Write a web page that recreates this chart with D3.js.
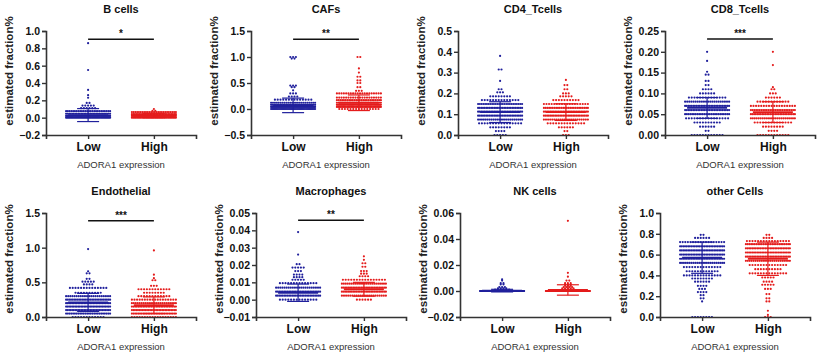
<!DOCTYPE html>
<html>
<head>
<meta charset="utf-8">
<script src="https://cdn.jsdelivr.net/npm/d3@7"></script>
<style>
  body { margin: 0; background: #fff; }
  svg { display: block; font-family: Arial, "Liberation Sans", sans-serif; }
</style>
</head>
<body>
<div id="chart"></div>
<script>
// 分组
const groups = ["Low", "High"]
const cellTypes = ["B cells", "CAFs", "CD4_Tcells", "CD8_Tcells", "Endothelial", "Macrophages", "NK cells", "other Cells"]

// 每行数据: [数值, 点数]
const bCellsLow = [[0.0, 40], [0.02, 40], [0.045, 30], [0.075, 26], [0.11, 6], [0.14, 5], [0.17, 2], [0.23, 1], [0.26, 1], [0.32, 1], [0.55, 1], [0.86, 1]]
const bCellsHigh = [[0.0, 35], [0.02, 40], [0.04, 30], [0.065, 26], [0.08, 2], [0.1, 1]]
const cafsLow = [[0.0, 40], [0.04, 45], [0.08, 30], [0.12, 24], [0.18, 14], [0.24, 4], [0.3, 3], [0.36, 1], [0.42, 2], [0.45, 3], [0.97, 2], [1.0, 3]]
const cafsHigh = [[0.0, 15], [0.04, 35], [0.08, 40], [0.12, 30], [0.17, 26], [0.22, 20], [0.3, 20], [0.35, 3], [0.42, 2], [0.5, 2], [0.55, 2], [0.62, 2], [0.7, 1], [0.78, 1], [1.0, 2]]
const cd4Low = [[0.0, 5], [0.019, 4], [0.037, 8], [0.056, 16], [0.074, 24], [0.093, 28], [0.112, 28], [0.13, 28], [0.149, 26], [0.168, 14], [0.186, 8], [0.205, 3], [0.22, 2], [0.26, 1], [0.315, 2], [0.38, 1]]
const cd4High = [[0.0, 3], [0.019, 2], [0.037, 6], [0.056, 14], [0.074, 22], [0.093, 28], [0.112, 28], [0.13, 26], [0.149, 18], [0.168, 10], [0.186, 5], [0.2, 3], [0.22, 2], [0.24, 2], [0.265, 1]]
const cd8Low = [[0.0, 12], [0.01, 2], [0.02, 6], [0.03, 10], [0.04, 16], [0.05, 26], [0.06, 28], [0.07, 28], [0.08, 22], [0.09, 14], [0.1, 6], [0.11, 4], [0.12, 2], [0.13, 2], [0.145, 2], [0.152, 1], [0.178, 1], [0.2, 1]]
const cd8High = [[0.0, 12], [0.01, 4], [0.02, 8], [0.03, 14], [0.04, 24], [0.05, 28], [0.06, 26], [0.07, 18], [0.08, 12], [0.09, 6], [0.1, 3], [0.11, 2], [0.115, 1], [0.168, 1], [0.2, 1]]
const endoLow = [[0.0, 12], [0.05, 26], [0.1, 30], [0.15, 30], [0.2, 30], [0.25, 28], [0.3, 22], [0.35, 10], [0.42, 14], [0.47, 4], [0.51, 5], [0.55, 2], [0.63, 2], [0.66, 1], [0.98, 1]]
const endoHigh = [[0.0, 18], [0.05, 28], [0.1, 30], [0.15, 28], [0.2, 24], [0.25, 18], [0.3, 12], [0.35, 8], [0.4, 12], [0.45, 3], [0.53, 2], [0.56, 1], [0.61, 1], [0.96, 1]]
const macroLow = [[0.0, 14], [0.0023, 28], [0.0046, 28], [0.0069, 22], [0.0095, 14], [0.0115, 5], [0.013, 4], [0.0145, 4], [0.0165, 3], [0.0185, 5], [0.0205, 2], [0.026, 1], [0.039, 1]]
const macroHigh = [[0.0, 6], [0.0023, 22], [0.0046, 28], [0.0069, 28], [0.0092, 24], [0.0115, 16], [0.0135, 4], [0.015, 3], [0.0165, 3], [0.019, 2], [0.021, 2], [0.023, 1], [0.025, 1]]
const nkLow = [[0.0, 150], [0.001, 6], [0.002, 4], [0.003, 3], [0.005, 2], [0.006, 2], [0.008, 1], [0.009, 1]]
const nkHigh = [[0.0, 140], [0.001, 5], [0.002, 5], [0.003, 4], [0.004, 3], [0.005, 3], [0.006, 3], [0.008, 2], [0.011, 1], [0.014, 1], [0.054, 1]]
const otherLow = [[0.0, 8], [0.15, 1], [0.18, 2], [0.21, 2], [0.24, 4], [0.27, 3], [0.3, 4], [0.34, 6], [0.37, 8], [0.4, 14], [0.44, 12], [0.48, 14], [0.52, 24], [0.56, 28], [0.6, 28], [0.64, 28], [0.68, 28], [0.72, 18], [0.76, 6], [0.79, 2]]
const otherHigh = [[0.0, 3], [0.02, 1], [0.06, 1], [0.15, 2], [0.18, 2], [0.22, 2], [0.27, 3], [0.31, 5], [0.34, 4], [0.38, 5], [0.42, 14], [0.46, 10], [0.5, 14], [0.54, 24], [0.58, 28], [0.62, 28], [0.66, 28], [0.7, 26], [0.73, 16], [0.76, 4], [0.79, 2]]

// 均值 / 标准差 [Low, High]
const means = [[0.03, 0.025], [0.07, 0.12], [0.11, 0.11], [0.065, 0.055], [0.21, 0.17], [0.004, 0.006], [0.0003, 0.0008], [0.57, 0.56]]
const sds = [[0.075, 0.025], [0.14, 0.15], [0.05, 0.04], [0.025, 0.025], [0.13, 0.12], [0.005, 0.004], [0.001, 0.004], [0.15, 0.16]]

// 坐标轴
const yDomains = [[-0.2, 1.0], [-0.5, 1.5], [0, 0.5], [0, 0.25], [0, 1.5], [-0.01, 0.05], [-0.02, 0.06], [0, 1.0]]
const yTicks = [
  [-0.2, 0.0, 0.2, 0.4, 0.6, 0.8, 1.0],
  [-0.5, 0.0, 0.5, 1.0, 1.5],
  [0.0, 0.1, 0.2, 0.3, 0.4, 0.5],
  [0.0, 0.05, 0.1, 0.15, 0.2, 0.25],
  [0.0, 0.5, 1.0, 1.5],
  [-0.01, 0.0, 0.01, 0.02, 0.03, 0.04, 0.05],
  [-0.02, 0.0, 0.02, 0.04, 0.06],
  [0.0, 0.2, 0.4, 0.6, 0.8, 1.0]
]
const tickFormats = [".1f", ".1f", ".1f", ".2f", ".1f", ".2f", ".2f", ".1f"]

// 显著性标记
const sigStars = ["*", "**", "", "***", "***", "**", "", ""]
const sigLevels = [0.905, 1.34, null, 0.231, 1.39, 0.0458, null, null]

const seriesData = [
  [bCellsLow, bCellsHigh], [cafsLow, cafsHigh], [cd4Low, cd4High], [cd8Low, cd8High],
  [endoLow, endoHigh], [macroLow, macroHigh], [nkLow, nkHigh], [otherLow, otherHigh]
]

const colors = {Low: "#20209c", High: "#e41c1c"}

// 布局
const width = 825, height = 357
const plotW = 150, plotH = 104
const panelLeft = [46, 251, 458, 665, 46, 256, 460, 660]
const rowTop = [31, 213]
const yLabelShift = [-12, -6]

const svg = d3.select("#chart").append("svg")
  .attr("width", width).attr("height", height)

const x = d3.scalePoint().domain(groups).range([0, plotW]).padding(0.64)

seriesData.forEach((pair, i) => {
  const row = Math.floor(i / 4)
  const g = svg.append("g")
    .attr("transform", `translate(${panelLeft[i]},${rowTop[row]})`)

  const y = d3.scaleLinear().domain(yDomains[i]).range([plotH, 0])

  // 标题
  g.append("text")
    .attr("x", plotW / 2).attr("y", -18)
    .attr("text-anchor", "middle")
    .attr("font-size", 11).attr("font-weight", "bold").attr("fill", "#111")
    .text(cellTypes[i])

  // y轴标签
  g.append("text")
    .attr("transform", `translate(${-33},${plotH / 2 + yLabelShift[row]}) rotate(-90)`)
    .attr("text-anchor", "middle")
    .attr("font-size", 11.5).attr("font-weight", "bold").attr("fill", "#222")
    .text("estimated fraction%")

  // x轴标题
  g.append("text")
    .attr("x", plotW / 2).attr("y", plotH + 33)
    .attr("text-anchor", "middle")
    .attr("font-size", 9.5).attr("fill", "#333")
    .text("ADORA1 expression")

  // 散点 (蜂群排列)
  pair.forEach((rows, k) => {
    const grp = groups[k]
    const cx = x(grp)
    const pts = []
    rows.forEach(([v, n]) => {
      const step = n > 1 ? Math.min(2.8, 44 / (n - 1)) : 0
      for (let j = 0; j < n; j++) {
        pts.push({v, dx: (j - (n - 1) / 2) * step})
      }
    })
    g.append("g").selectAll("circle")
      .data(pts)
      .enter()
      .append("circle")
      .attr("cx", d => cx + d.dx)
      .attr("cy", d => y(d.v))
      .attr("r", 1.1)
      .attr("fill", colors[grp])

    // 均值 ± SD
    const m = means[i][k], s = sds[i][k]
    const eb = g.append("g").attr("stroke", colors[grp])
    eb.append("line")
      .attr("x1", cx - 20).attr("x2", cx + 20)
      .attr("y1", y(m)).attr("y2", y(m))
      .attr("stroke-width", 1.8)
    eb.append("line")
      .attr("x1", cx).attr("x2", cx)
      .attr("y1", y(m - s)).attr("y2", y(m + s))
      .attr("stroke-width", 1.2)
    ;[m - s, m + s].forEach(v => {
      eb.append("line")
        .attr("x1", cx - 11).attr("x2", cx + 11)
        .attr("y1", y(v)).attr("y2", y(v))
        .attr("stroke-width", 1.2)
    })
  })

  // y轴
  const yAxis = g.append("g")
    .call(d3.axisLeft(y).tickValues(yTicks[i]).tickFormat(d3.format(tickFormats[i])).tickSizeOuter(0).tickSize(4).tickPadding(2))
  yAxis.select(".domain").attr("stroke", "#333").attr("stroke-width", 1.6)
  yAxis.selectAll(".tick line").attr("stroke", "#333").attr("stroke-width", 1.4)
  yAxis.selectAll(".tick text")
    .attr("font-size", 10.5).attr("font-weight", "bold").attr("fill", "#111")
    .attr("font-family", "Arial, 'Liberation Sans', sans-serif")

  // x轴
  const xAxis = g.append("g")
    .attr("transform", `translate(0,${plotH})`)
    .call(d3.axisBottom(x).tickSizeOuter(0).tickSize(4).tickPadding(3))
  xAxis.select(".domain").attr("stroke", "#333").attr("stroke-width", 1.6)
  xAxis.selectAll(".tick line").attr("stroke", "#333").attr("stroke-width", 1.4)
  xAxis.selectAll(".tick text")
    .attr("font-size", 12).attr("font-weight", "bold").attr("fill", "#111")
    .attr("font-family", "Arial, 'Liberation Sans', sans-serif")

  // 显著性线
  if (sigLevels[i] !== null) {
    const sy = y(sigLevels[i])
    g.append("line")
      .attr("x1", x("Low")).attr("x2", x("High"))
      .attr("y1", sy).attr("y2", sy)
      .attr("stroke", "#111").attr("stroke-width", 1.5)
    g.append("text")
      .attr("x", (x("Low") + x("High")) / 2).attr("y", sy - 2)
      .attr("text-anchor", "middle")
      .attr("font-size", 10).attr("font-weight", "bold").attr("fill", "#111")
      .text(sigStars[i])
  }
})
</script>
</body>
</html>
